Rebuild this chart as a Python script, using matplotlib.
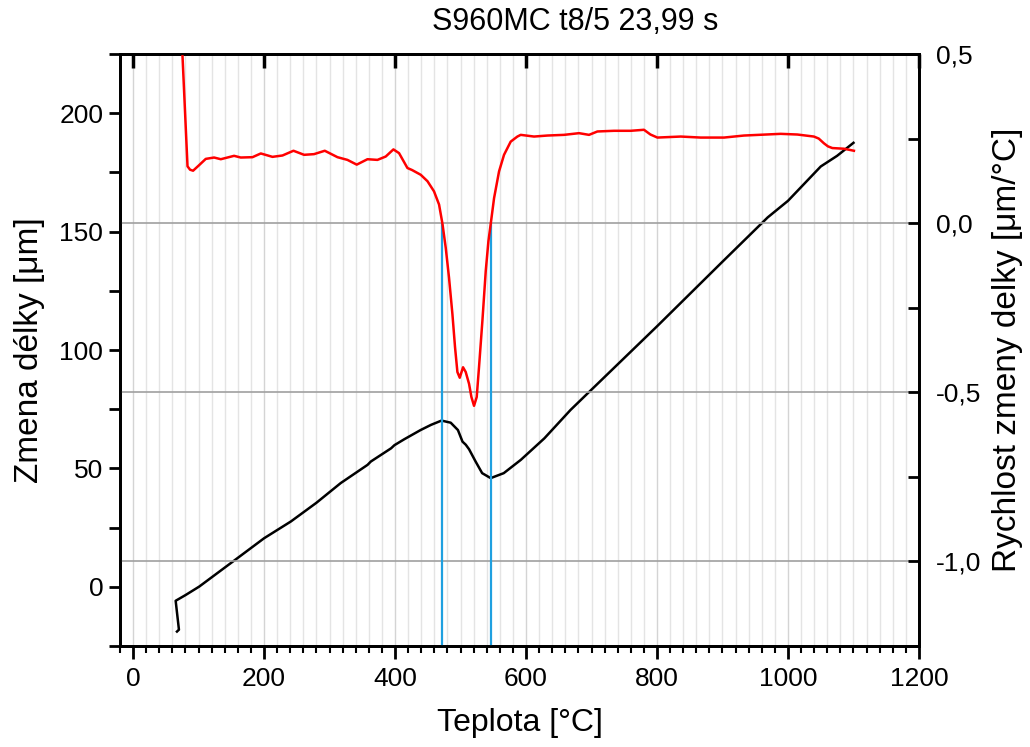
import matplotlib
matplotlib.use("Agg")
import matplotlib.pyplot as plt
from matplotlib.ticker import MultipleLocator, FuncFormatter

plt.rcParams['font.family'] = ['Liberation Sans', 'DejaVu Sans']

# Dilatometric curve: length change [um] vs. temperature [C]
temp_len = [1100, 1075, 1050, 1000, 969, 900, 800, 696, 668, 628, 592, 566, 546, 533,
            523, 513, 508, 503, 496, 485, 471, 455, 439, 414, 399, 394, 363, 358, 317,
            280, 241, 200, 154, 101, 80, 65, 70, 67]
length_change = [187.5, 182.0, 177.5, 163.0, 156.0, 137.3, 110.0, 82.2, 74.7, 62.7, 53.6,
                 48.0, 45.9, 48.0, 52.9, 58.1, 60.0, 61.3, 66.2, 69.3, 70.2, 68.4, 66.2,
                 62.3, 59.8, 58.5, 52.9, 51.5, 43.8, 35.5, 27.6, 20.5, 11.0, 0.1,
                 -3.5, -5.9, -18.1, -18.9]

# Derivative: rate of length change [um/C] vs. temperature [C]
temp_rate = [73.5, 75.4, 83.1, 87.0, 91.6, 100.0, 111.0, 123.7, 133.9, 154.2, 164.4,
             182.3, 195.0, 212.8, 228.1, 244.9, 261.1, 276.3, 292.7, 312.1, 327.3,
             341.5, 357.9, 373.1, 385.8, 397.5, 406.1, 418.9, 426.0, 439.2, 449.5,
             459.5, 467.2, 472.4, 477.4, 482.4, 487.6, 491.6, 495.2, 498.8, 503.8,
             507.9, 513.0, 516.6, 520.6, 524.7, 528.2, 533.4, 538.5, 542.6, 546.1,
             551.2, 558.8, 566.4, 576.6, 586.8, 591.9, 612.2, 632.7, 658.0, 680.9,
             696.2, 709.0, 734.3, 759.8, 780.1, 790.0, 800.6, 836.2, 866.7, 902.3,
             932.8, 988.8, 1014.3, 1039.6, 1047.0, 1054.9, 1061.0, 1067.7, 1085.5,
             1100.7]
rate = [0.70, 0.496, 0.168, 0.158, 0.155, 0.170, 0.190, 0.194, 0.189, 0.199, 0.194,
        0.195, 0.206, 0.196, 0.200, 0.214, 0.202, 0.204, 0.214, 0.195, 0.187,
        0.173, 0.189, 0.187, 0.197, 0.218, 0.207, 0.163, 0.157, 0.143, 0.124,
        0.094, 0.055, -0.002, -0.073, -0.161, -0.269, -0.367, -0.440, -0.457, -0.426,
        -0.440, -0.475, -0.514, -0.540, -0.514, -0.426, -0.288, -0.141, -0.053, -0.002,
        0.074, 0.153, 0.202, 0.241, 0.256, 0.261, 0.256, 0.259, 0.261, 0.266,
        0.261, 0.271, 0.273, 0.273, 0.276, 0.262, 0.253, 0.256, 0.253, 0.253,
        0.259, 0.264, 0.262, 0.256, 0.250, 0.236, 0.227, 0.222, 0.220, 0.214]

# Start and end of the transformation (zero crossings of the derivative)
transform_temps = [471.5, 546.0]

x_ticks = [0, 200, 400, 600, 800, 1000, 1200]
left_ticks = [0, 50, 100, 150, 200]
right_ticks = [-1.0, -0.5, 0.0, 0.5]

title = "S960MC t8/5 23,99 s"
xlabel = "Teplota [°C]"
ylabel_left = "Zmena délky [μm]"
ylabel_right = "Rychlost zmeny delky [μm/°C]"

fig = plt.figure(figsize=(10.3, 7.47), dpi=100)
ax = fig.add_axes([0.1165, 0.1352, 0.7757, 0.7925])
ax2 = ax.twinx()

ax.set_xlim(-20, 1200)
ax.set_ylim(-25, 225)
ax2.set_ylim(-1.25, 0.5)

# light vertical grid every 20 C
ax.xaxis.set_major_locator(MultipleLocator(200))
ax.xaxis.set_minor_locator(MultipleLocator(20))
ax.grid(which='minor', axis='x', color='#e4e4e4', linewidth=1.0, zorder=0)
ax.grid(which='major', axis='x', color='#d4d4d4', linewidth=1.0, zorder=0)

# horizontal grid from the derivative axis
ax2.yaxis.set_major_locator(MultipleLocator(0.5))
ax2.yaxis.set_minor_locator(MultipleLocator(0.25))
ax2.grid(which='major', axis='y', color='#a0a0a0', linewidth=1.2, zorder=0)

ax.plot(temp_len, length_change, color='black', linewidth=1.8, zorder=3)
ax2.vlines(transform_temps, -1.25, 0.0, color='#1fa0e0', linewidth=1.6, zorder=2)
ax2.plot(temp_rate, rate, color='#ff0000', linewidth=1.8, zorder=3)

ax.set_xticks(x_ticks)
ax.set_yticks(left_ticks)
ax.yaxis.set_minor_locator(MultipleLocator(25))
ax2.set_yticks(right_ticks)
ax2.yaxis.set_major_formatter(FuncFormatter(lambda v, p: f"{v:.1f}".replace('.', ',')))

for a in (ax, ax2):
    for s in a.spines.values():
        s.set_linewidth(2.0)

ax.tick_params(axis='x', which='major', direction='out', length=9, width=2,
               labelsize=19, pad=6, top=False)
ax.tick_params(axis='x', which='minor', direction='out', length=5, width=1.5,
               top=False)
ax.tick_params(axis='y', which='both', direction='out', length=8, width=2,
               labelsize=19, pad=4)
ax2.tick_params(axis='y', which='both', direction='in', length=8, width=2,
                labelsize=19, pad=12)

# inward major ticks along the top edge
topx = ax.twiny()
topx.set_xlim(ax.get_xlim())
topx.set_xticks(x_ticks)
topx.tick_params(axis='x', which='major', direction='in', length=10, width=2.5,
                 color='black', labeltop=False, top=True)
topx.tick_params(axis='x', which='minor', top=False)

ax.set_xlabel(xlabel, fontsize=23, labelpad=12)
ax.set_ylabel(ylabel_left, fontsize=24, labelpad=10)
ax2.set_ylabel(ylabel_right, fontsize=24, labelpad=8)
fig.text(0.558, 0.970, title, fontsize=22, ha='center', va='center')

fig.savefig("out.png", dpi=100)
